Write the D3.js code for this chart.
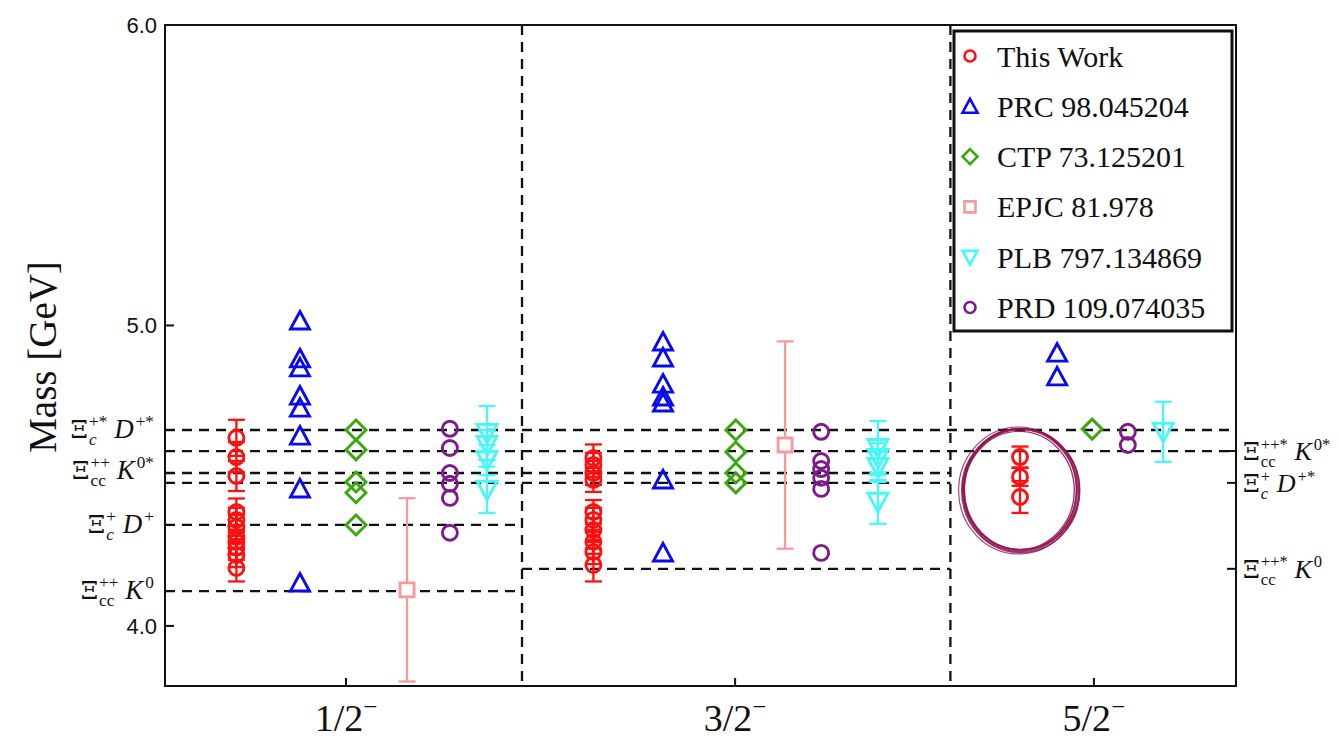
<!DOCTYPE html>
<html>
<head>
<meta charset="utf-8">
<script src="https://cdn.jsdelivr.net/npm/d3@7"></script>
<style>
body { margin: 0; background: #fff; }
text { font-family: "Liberation Serif", "Times New Roman", serif; fill: #111; }
</style>
</head>
<body>
<svg id="chart" width="1339" height="740"></svg>
<script>
// x runs in panel units 0..30, spin-parity columns split at 10 and 22
var categories = ["1/2", "3/2", "5/2"];
var categoryX = [5.07, 15.97, 26.02];
var dividerX = [10, 22];

// mass ticks
var yTicks = [4.0, 5.0, 6.0];

// thresholds (GeV) and where the dashed line runs
var thresholdMass = [4.652, 4.582, 4.509, 4.476, 4.336, 4.116, 4.190];
var thresholdFrom = [0, 0, 0, 0, 0, 0, 10];
var thresholdTo   = [30, 30, 22, 22, 10, 10, 22];

// left / right threshold labels
var leftLabelMass = [4.652, 4.515, 4.336, 4.116];
var leftLabels = [
    [{b: "Ξ", sub: "c", subIt: true, sup: "+*"}, {b: "D", it: true, sup: "+*"}],
    [{b: "Ξ", sub: "cc", sup: "++"}, {b: "K", it: true, sup: "0*"}],
    [{b: "Ξ", sub: "c", subIt: true, sup: "+"}, {b: "D", it: true, sup: "+"}],
    [{b: "Ξ", sub: "cc", sup: "++"}, {b: "K", it: true, sup: "0"}]
];
var rightLabelMass = [4.582, 4.476, 4.190];
var rightLabels = [
    [{b: "Ξ", sub: "cc", sup: "++*"}, {b: "K", it: true, sup: "0*"}],
    [{b: "Ξ", sub: "c", subIt: true, sup: "+"}, {b: "D", it: true, sup: "+*"}],
    [{b: "Ξ", sub: "cc", sup: "++*"}, {b: "K", it: true, sup: "0"}]
];

// series
var seriesNames  = ["This Work", "PRC 98.045204", "CTP 73.125201", "EPJC 81.978", "PLB 797.134869", "PRD 109.074035"];
var seriesColors = ["#ff1010", "#0a0af0", "#38a80c", "#f59a9a", "#48f8f8", "#7d1a8c"];
var seriesShapes = ["circle", "triUp", "diamond", "square", "triDown", "circle"];

var thisWorkX = [2, 12, 23.95];
var thisWorkMass = [
    [4.626, 4.562, 4.499, 4.379, 4.353, 4.329, 4.296, 4.280, 4.260, 4.236, 4.193],
    [4.559, 4.536, 4.509, 4.486, 4.379, 4.353, 4.319, 4.280, 4.246, 4.203],
    [4.562, 4.496, 4.429]
];
var thisWorkErr = [
    [0.06, 0.05, 0.05, 0.045, 0.04, 0.04, 0.04, 0.04, 0.04, 0.04, 0.045],
    [0.045, 0.04, 0.04, 0.04, 0.04, 0.04, 0.04, 0.04, 0.04, 0.055],
    [0.035, 0.03, 0.053]
];

var prcX = [3.78, 13.95, 24.99];
var prcMass = [
    [5.015, 4.889, 4.859, 4.765, 4.725, 4.632, 4.456, 4.143],
    [4.945, 4.892, 4.805, 4.762, 4.742, 4.486, 4.243],
    [4.908, 4.829]
];

var ctpX = [5.35, 15.99, 25.97];
var ctpMass = [
    [4.652, 4.586, 4.479, 4.443, 4.336],
    [4.652, 4.579, 4.509, 4.476],
    [4.655]
];

var epjcX = [6.78, 17.37];
var epjcMass = [[4.120], [4.602]];
var epjcErr = [[0.305], [0.345]];

var plbX = [9.02, 19.97, 27.96];
var plbMass = [
    [4.642, 4.602, 4.552, 4.453],
    [4.592, 4.559, 4.529, 4.413],
    [4.646]
];
var plbErr = [
    [0.09, 0.05, 0.05, 0.077],
    [0.09, 0.05, 0.05, 0.073],
    [0.10]
];

var prdX = [7.98, 18.38, 26.97];
var prdMass = [
    [4.656, 4.592, 4.509, 4.473, 4.426, 4.310],
    [4.646, 4.549, 4.522, 4.493, 4.456, 4.243],
    [4.646, 4.602]
];

// hand drawn ring around the 5/2 result
var ringX = 23.95, ringMass = 4.452;

function flatten(xs, masses, errs) {
    var out = [];
    xs.forEach(function (x, c) {
        masses[c].forEach(function (m, i) {
            out.push({x: x, m: m, e: errs ? errs[c][i] : null});
        });
    });
    return out;
}

var seriesData = [
    flatten(thisWorkX, thisWorkMass, thisWorkErr),
    flatten(prcX, prcMass, null),
    flatten(ctpX, ctpMass, null),
    flatten(epjcX, epjcMass, epjcErr),
    flatten(plbX, plbMass, plbErr),
    flatten(prdX, prdMass, null)
];

var svg = d3.select("#chart");
var plotLeft = 165, plotRight = 1236, plotTop = 25, plotBottom = 686;

var x = d3.scaleLinear().domain([0, 30]).range([plotLeft, plotRight]);
var y = d3.scaleLinear().domain([3.8, 6.0]).range([plotBottom, plotTop]);

// dashed threshold lines
thresholdMass.forEach(function (m, i) {
    svg.append("line")
        .attr("x1", x(thresholdFrom[i])).attr("x2", x(thresholdTo[i]))
        .attr("y1", y(m)).attr("y2", y(m))
        .attr("stroke", "#111").attr("stroke-width", 2.3)
        .attr("stroke-dasharray", "10,7");
});

// column dividers
dividerX.forEach(function (d) {
    svg.append("line")
        .attr("x1", x(d)).attr("x2", x(d))
        .attr("y1", plotTop).attr("y2", plotBottom)
        .attr("stroke", "#111").attr("stroke-width", 2.3)
        .attr("stroke-dasharray", "10,7");
});

function markerPath(shape, s) {
    if (shape == "triUp") {
        return "M0," + (-s) + "L" + s + "," + (s * 0.85) + "L" + (-s) + "," + (s * 0.85) + "Z";
    } else if (shape == "triDown") {
        return "M0," + s + "L" + s + "," + (-s * 0.85) + "L" + (-s) + "," + (-s * 0.85) + "Z";
    } else if (shape == "diamond") {
        return "M0," + (-s) + "L" + s + ",0L0," + s + "L" + (-s) + ",0Z";
    } else if (shape == "square") {
        return "M" + (-s) + "," + (-s) + "H" + s + "V" + s + "H" + (-s) + "Z";
    }
    return null;
}

function drawMarker(g, shape, color, cx, cy, s, fill, sw) {
    if (shape == "circle") {
        g.append("circle").attr("cx", cx).attr("cy", cy).attr("r", s)
            .attr("fill", fill).attr("stroke", color).attr("stroke-width", sw);
    } else {
        g.append("path").attr("d", markerPath(shape, s))
            .attr("transform", "translate(" + cx + "," + cy + ")")
            .attr("fill", fill).attr("stroke", color).attr("stroke-width", sw)
            .attr("stroke-linejoin", "miter");
    }
}

var markerSize = {circle: 7.5, triUp: 9.5, diamond: 10, square: 7, triDown: 10};
var markerFill = ["none", "none", "none", "#fff", "none", "none"];

seriesData.forEach(function (pts, si) {
    var g = svg.append("g");
    var color = seriesColors[si];
    // error bars
    pts.forEach(function (p) {
        if (p.e == null) return;
        var px = x(p.x);
        g.append("line").attr("x1", px).attr("x2", px)
            .attr("y1", y(p.m - p.e)).attr("y2", y(p.m + p.e))
            .attr("stroke", color).attr("stroke-width", 2.3);
        [p.m - p.e, p.m + p.e].forEach(function (v) {
            g.append("line").attr("x1", px - 8.5).attr("x2", px + 8.5)
                .attr("y1", y(v)).attr("y2", y(v))
                .attr("stroke", color).attr("stroke-width", 2.3);
        });
    });
    pts.forEach(function (p) {
        drawMarker(g, seriesShapes[si], color, x(p.x), y(p.m), markerSize[seriesShapes[si]], markerFill[si], 2.9);
    });
});

// ring, a few loose strokes for a brush look
var ring = svg.append("g");
var ringStrokes = [
    [57, 61, 2.4, 0, 0], [59, 62, 1.6, 1, 0.5], [55, 59, 1.4, -1, 0.3],
    [58, 60, 1.2, 2, -0.6], [60, 63.5, 1.1, -2, 0.4], [56, 60.5, 1.3, 0.5, -1]
];
ringStrokes.forEach(function (r) {
    ring.append("ellipse")
        .attr("cx", x(ringX) + r[3] * 0.7).attr("cy", y(ringMass) + r[4])
        .attr("rx", r[0]).attr("ry", r[1])
        .attr("fill", "none").attr("stroke", "#8e1552")
        .attr("stroke-width", r[2]).attr("opacity", 0.85);
});

// frame
svg.append("rect").attr("x", plotLeft).attr("y", plotTop)
    .attr("width", plotRight - plotLeft).attr("height", plotBottom - plotTop)
    .attr("fill", "none").attr("stroke", "#111").attr("stroke-width", 2);

// left numeric ticks
yTicks.forEach(function (t) {
    svg.append("line").attr("x1", plotLeft).attr("x2", plotLeft + 9)
        .attr("y1", y(t)).attr("y2", y(t))
        .attr("stroke", "#111").attr("stroke-width", 2);
    svg.append("text").attr("x", plotLeft - 8).attr("y", y(t))
        .attr("dy", "0.35em").attr("text-anchor", "end")
        .style("font-family", "'Liberation Sans', Arial, sans-serif")
        .style("font-size", "22px")
        .text(t.toFixed(1));
});

// right ticks
rightLabelMass.forEach(function (m) {
    svg.append("line").attr("x1", plotRight - 9).attr("x2", plotRight)
        .attr("y1", y(m)).attr("y2", y(m))
        .attr("stroke", "#111").attr("stroke-width", 2);
});

// bottom ticks and labels
categoryX.forEach(function (c, i) {
    svg.append("line").attr("x1", x(c)).attr("x2", x(c))
        .attr("y1", plotBottom).attr("y2", plotBottom - 8)
        .attr("stroke", "#111").attr("stroke-width", 2);
    var t = svg.append("text").attr("x", x(c)).attr("y", 731)
        .attr("text-anchor", "middle").style("font-size", "38px");
    t.append("tspan").text(categories[i]);
    t.append("tspan").attr("dy", -16).style("font-size", "25px").text("−");
});

// y label
svg.append("text")
    .attr("transform", "translate(56,357) rotate(-90)")
    .attr("text-anchor", "middle")
    .style("font-size", "39px")
    .text("Mass [GeV]");

// math-ish labels built from pieces
function drawMath(parts, px, py, anchor, size) {
    var g = svg.append("g");
    var cx = 0;
    var small = size * 0.64;
    parts.forEach(function (p, k) {
        if (k > 0) cx += size * 0.25;
        var b = g.append("text").attr("x", cx).attr("y", 0)
            .style("font-size", (p.b == "Ξ" ? size * 0.92 : size) + "px")
            .style("font-family", p.b == "Ξ" ? "'DejaVu Serif', serif" : null)
            .style("font-style", p.it ? "italic" : "normal")
            .text(p.b);
        cx += b.node().getComputedTextLength() + (p.it ? 2 : 1);
        var w = 0;
        if (p.sub) {
            var s = g.append("text").attr("x", cx).attr("y", size * 0.26)
                .style("font-size", small + "px")
                .style("font-style", p.subIt ? "italic" : "normal")
                .text(p.sub);
            w = Math.max(w, s.node().getComputedTextLength());
        }
        if (p.sup) {
            var u = g.append("text").attr("x", cx).attr("y", -size * 0.4)
                .style("font-size", small + "px")
                .text(p.sup);
            w = Math.max(w, u.node().getComputedTextLength());
        }
        cx += w;
    });
    var shift = anchor == "end" ? -cx : 0;
    g.attr("transform", "translate(" + (px + shift) + "," + py + ")");
}

leftLabels.forEach(function (parts, i) {
    drawMath(parts, 154, y(leftLabelMass[i]) + 8, "end", 27);
});
rightLabels.forEach(function (parts, i) {
    drawMath(parts, 1243, y(rightLabelMass[i]) + 9, "start", 26);
});

// legend
var lg = svg.append("g");
lg.append("rect").attr("x", 954).attr("y", 31).attr("width", 278).attr("height", 300)
    .attr("fill", "#fff").attr("stroke", "#111").attr("stroke-width", 3);
var legendSize = {circle: 5.5, triUp: 7.5, diamond: 7.5, square: 5.5, triDown: 7.5};
seriesNames.forEach(function (name, i) {
    var ly = 56 + i * 50.3;
    drawMarker(lg, seriesShapes[i], seriesColors[i], 970, ly, legendSize[seriesShapes[i]], "none", 2.6);
    lg.append("text").attr("x", 997).attr("y", ly).attr("dy", "0.35em")
        .style("font-size", "30px").text(name);
});
</script>
</body>
</html>
